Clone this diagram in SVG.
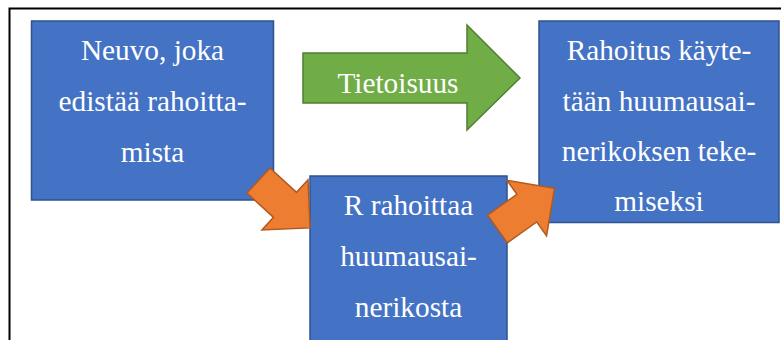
<svg xmlns="http://www.w3.org/2000/svg" width="781" height="340" viewBox="0 0 781 340">
  <style>
    .box { fill: #4472C4; stroke: #2F528F; stroke-width: 1.5; }
    .lbl { font-family: 'Liberation Serif', 'DejaVu Serif', serif; font-size: 29.3px; fill: #FFFFFF; text-anchor: middle; }
    .green { fill: #70AD47; stroke: #507E32; stroke-width: 1.5; stroke-linejoin: miter; }
    .orange { fill: #ED7D31; stroke: #AE5A21; stroke-width: 1.5; stroke-linejoin: miter; }
  </style>
  <defs>
    <!-- block arrow pointing along +x, back edge at x=0 -->
    <polygon id="blockArrow" points="0,-17 36,-17 36,-34 70,0 36,34 36,17 0,17"/>
  </defs>

  <rect width="781" height="340" fill="#FFFFFF"/>

  <!-- frame -->
  <path d="M9.5,340 V8.5 H781" fill="none" stroke="#000000" stroke-width="2"/>

  <g id="node-advice">
    <rect class="box" x="31.5" y="21" width="242" height="179"/>
    <text class="lbl" font-family="Liberation Serif, serif" x="152.5" y="60">Neuvo, joka</text>
    <text class="lbl" font-family="Liberation Serif, serif" x="152.5" y="111">edistää rahoitta-</text>
    <text class="lbl" font-family="Liberation Serif, serif" x="152.5" y="162">mista</text>
  </g>

  <g id="node-financing">
    <rect class="box" x="310" y="176" width="197" height="170"/>
    <text class="lbl" x="408.5" y="215">R rahoittaa</text>
    <text class="lbl" x="408.5" y="266">huumausai-</text>
    <text class="lbl" x="408.5" y="317">nerikosta</text>
  </g>

  <g id="node-use">
    <rect class="box" x="539" y="21" width="240" height="201.5"/>
    <text class="lbl" x="659" y="60">Rahoitus käyte-</text>
    <text class="lbl" x="659" y="111">tään huumausai-</text>
    <text class="lbl" x="659" y="161">nerikoksen teke-</text>
    <text class="lbl" x="659" y="211">miseksi</text>
  </g>

  <g id="connectors">
    <g id="awareness">
      <polygon class="green" points="303,53 467,53 467,25 520,78 467,130 467,103 303,103"/>
      <text class="lbl" x="398" y="93">Tietoisuus</text>
    </g>
    <use href="#blockArrow" class="orange" transform="translate(258.5,180.5) rotate(42.6)"/>
    <use href="#blockArrow" class="orange" transform="translate(497.5,229) rotate(-35.5)"/>
  </g>
</svg>
